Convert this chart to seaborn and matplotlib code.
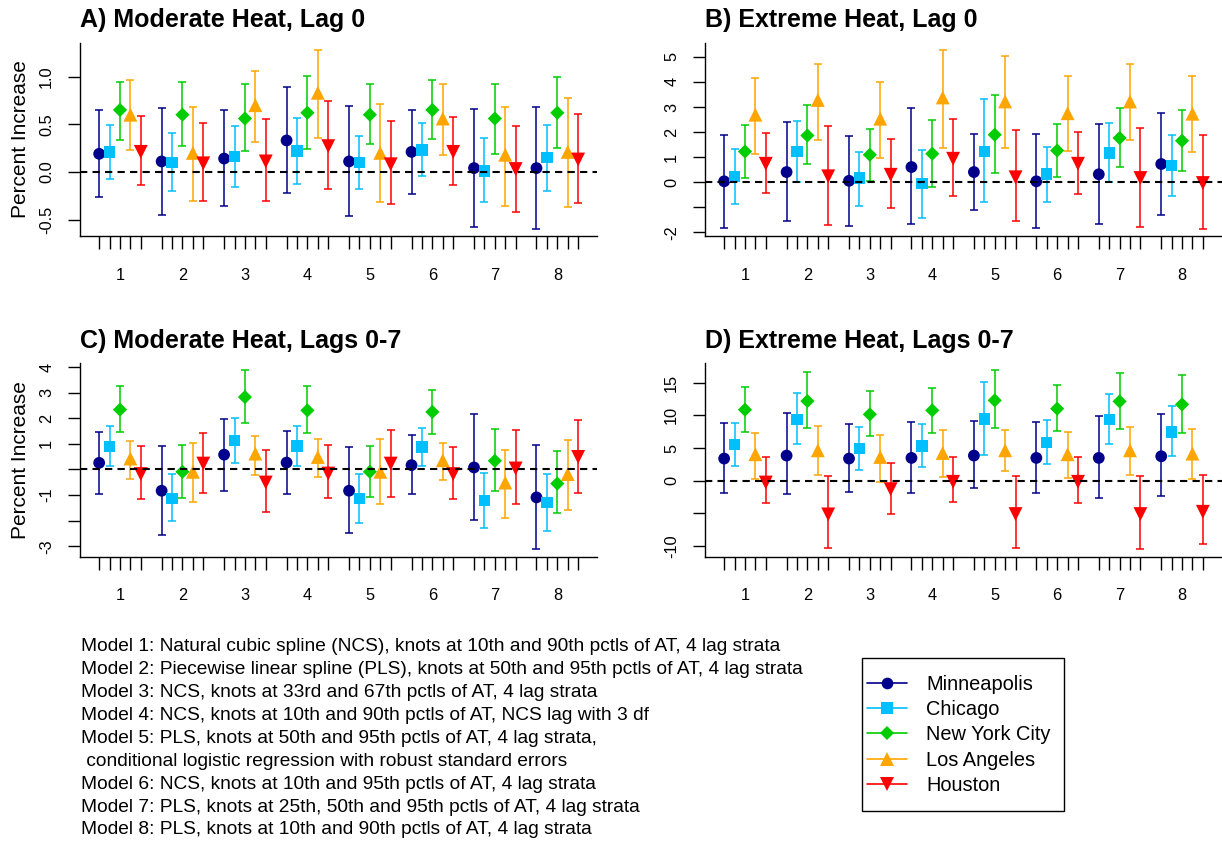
import numpy as np
import pandas as pd
import matplotlib
matplotlib.use("Agg")
import matplotlib.pyplot as plt
import seaborn as sns
from matplotlib.lines import Line2D
from matplotlib.patches import Rectangle

sns.set_style("ticks")
plt.rcParams['font.family'] = ['Liberation Sans', 'DejaVu Sans']
plt.rcParams.update({"text.color": "black", "axes.labelcolor": "black",
                     "xtick.color": "black", "ytick.color": "black",
                     "axes.edgecolor": "black"})

# ---------------- data ----------------
cities = ["Minneapolis", "Chicago", "New York City", "Los Angeles", "Houston"]
model_labels = ["1", "2", "3", "4", "5", "6", "7", "8"]

# rows = models 1..8, columns = cities (Minneapolis, Chicago, NYC, LA, Houston)
A_est = [[0.19, 0.21, 0.65, 0.60, 0.21],
         [0.11, 0.10, 0.60, 0.20, 0.09],
         [0.14, 0.16, 0.56, 0.70, 0.11],
         [0.33, 0.22, 0.62, 0.83, 0.27],
         [0.11, 0.10, 0.60, 0.20, 0.08],
         [0.21, 0.23, 0.65, 0.56, 0.21],
         [0.04, 0.01, 0.56, 0.18, 0.03],
         [0.04, 0.15, 0.62, 0.21, 0.13]]
A_lo = [[-0.26, -0.07, 0.33, 0.23, -0.14],
        [-0.45, -0.20, 0.27, -0.30, -0.31],
        [-0.36, -0.16, 0.22, 0.31, -0.31],
        [-0.22, -0.13, 0.24, 0.36, -0.18],
        [-0.46, -0.18, 0.29, -0.32, -0.34],
        [-0.23, -0.04, 0.35, 0.18, -0.14],
        [-0.58, -0.32, 0.19, -0.36, -0.42],
        [-0.60, -0.20, 0.25, -0.37, -0.33]]
A_hi = [[0.65, 0.49, 0.94, 0.96, 0.59],
        [0.67, 0.41, 0.94, 0.68, 0.51],
        [0.65, 0.48, 0.92, 1.06, 0.55],
        [0.89, 0.57, 1.01, 1.28, 0.74],
        [0.69, 0.38, 0.92, 0.71, 0.53],
        [0.65, 0.51, 0.96, 0.92, 0.58],
        [0.66, 0.36, 0.92, 0.68, 0.48],
        [0.68, 0.49, 1.00, 0.78, 0.61]]

B_est = [[0.03, 0.23, 1.22, 2.69, 0.73],
         [0.40, 1.22, 1.86, 3.28, 0.23],
         [0.05, 0.16, 1.09, 2.53, 0.29],
         [0.60, -0.07, 1.13, 3.38, 0.93],
         [0.40, 1.22, 1.89, 3.22, 0.19],
         [0.03, 0.32, 1.26, 2.75, 0.73],
         [0.31, 1.16, 1.76, 3.22, 0.16],
         [0.72, 0.66, 1.65, 2.73, -0.04]]
B_lo = [[-1.82, -0.86, 0.17, 1.14, -0.45],
        [-1.57, 0.01, 0.73, 1.69, -1.72],
        [-1.74, -0.94, 0.03, 0.96, -1.04],
        [-1.66, -1.44, -0.19, 1.38, -0.55],
        [-1.10, -0.81, 0.35, 1.36, -1.57],
        [-1.82, -0.78, 0.20, 1.25, -0.49],
        [-1.66, -0.01, 0.59, 1.69, -1.80],
        [-1.30, -0.57, 0.45, 1.20, -1.88]]
B_hi = [[1.89, 1.33, 2.26, 4.16, 1.97],
        [2.39, 2.42, 3.06, 4.71, 2.22],
        [1.85, 1.22, 2.13, 3.99, 1.72],
        [2.95, 1.29, 2.46, 5.28, 2.53],
        [1.91, 3.32, 3.46, 5.05, 2.06],
        [1.91, 1.42, 2.31, 4.24, 1.98],
        [2.33, 2.37, 2.94, 4.71, 2.15],
        [2.75, 1.89, 2.89, 4.22, 1.89]]

C_est = [[0.26, 0.91, 2.34, 0.43, -0.18],
         [-0.83, -1.12, -0.09, -0.09, 0.23],
         [0.58, 1.14, 2.83, 0.62, -0.51],
         [0.27, 0.92, 2.31, 0.49, -0.16],
         [-0.83, -1.12, -0.09, -0.09, 0.23],
         [0.17, 0.88, 2.25, 0.36, -0.18],
         [0.08, -1.22, 0.34, -0.51, 0.04],
         [-1.09, -1.30, -0.55, -0.18, 0.49]]
C_lo = [[-0.94, 0.14, 1.47, -0.36, -1.16],
        [-2.56, -2.03, -1.10, -1.26, -0.92],
        [-0.83, 0.26, 1.82, -0.22, -1.68],
        [-0.94, 0.14, 1.44, -0.31, -1.13],
        [-2.49, -2.08, -1.06, -1.36, -1.06],
        [-0.97, 0.14, 1.38, -0.42, -1.16],
        [-1.97, -2.30, -0.84, -1.88, -1.36],
        [-3.12, -2.39, -1.71, -1.58, -0.90]]
C_hi = [[1.47, 1.69, 3.25, 1.12, 0.90],
        [0.92, -0.19, 0.97, 1.05, 1.43],
        [1.96, 2.01, 3.87, 1.31, 0.78],
        [1.51, 1.69, 3.25, 1.19, 0.95],
        [0.87, -0.16, 0.91, 1.18, 1.53],
        [1.34, 1.62, 3.09, 1.05, 0.88],
        [2.16, -0.13, 1.57, 0.78, 1.56],
        [0.95, -0.19, 0.71, 1.17, 1.95]]

D_est = [[3.37, 5.51, 10.87, 4.03, -0.31],
         [3.83, 9.39, 12.19, 4.64, -5.20],
         [3.37, 4.90, 10.15, 3.62, -1.33],
         [3.47, 5.31, 10.77, 4.23, -0.20],
         [3.83, 9.44, 12.30, 4.64, -5.15],
         [3.47, 5.82, 11.02, 4.03, -0.20],
         [3.47, 9.34, 12.14, 4.64, -5.15],
         [3.72, 7.45, 11.68, 4.13, -4.80]]
D_lo = [[-1.89, 2.24, 7.40, 0.31, -3.42],
        [-2.14, 5.66, 8.01, 0.87, -10.41],
        [-1.79, 1.68, 6.79, -0.15, -5.10],
        [-1.89, 2.09, 7.30, 0.61, -3.37],
        [-1.22, 3.98, 8.01, 1.43, -10.41],
        [-1.84, 2.50, 7.60, 0.41, -3.52],
        [-2.65, 5.56, 7.91, 0.82, -10.56],
        [-2.35, 3.83, 7.35, 0.31, -9.80]]
D_hi = [[8.78, 8.78, 14.34, 7.35, 3.57],
        [10.36, 13.42, 16.58, 8.32, 0.77],
        [8.72, 8.16, 13.72, 6.94, 2.70],
        [8.93, 8.62, 14.18, 7.76, 3.62],
        [9.13, 15.10, 16.89, 7.70, 0.77],
        [9.03, 9.23, 14.59, 7.45, 3.57],
        [9.85, 13.21, 16.48, 8.21, 0.77],
        [10.15, 11.38, 16.22, 7.86, 0.82]]

A_yticks = [-0.5, 0.0, 0.5, 1.0]
A_ytlab = ["-0.5", "0.0", "0.5", "1.0"]
B_yticks = [-2, -1, 0, 1, 2, 3, 4, 5]
B_ytlab = ["-2", "", "0", "1", "2", "3", "4", "5"]
C_yticks = [-3, -2, -1, 0, 1, 2, 3, 4]
C_ytlab = ["-3", "", "-1", "", "1", "2", "3", "4"]
D_yticks = [-10, -5, 0, 5, 10, 15]
D_ytlab = ["-10", "", "0", "5", "10", "15"]

titles = ["A) Moderate Heat, Lag 0", "B) Extreme Heat, Lag 0",
          "C) Moderate Heat, Lags 0-7", "D) Extreme Heat, Lags 0-7"]

notes = ["Model 1: Natural cubic spline (NCS), knots at 10th and 90th pctls of AT, 4 lag strata",
         "Model 2: Piecewise linear spline (PLS), knots at 50th and 95th pctls of AT, 4 lag strata",
         "Model 3: NCS, knots at 33rd and 67th pctls of AT, 4 lag strata",
         "Model 4: NCS, knots at 10th and 90th pctls of AT, NCS lag with 3 df",
         "Model 5: PLS, knots at 50th and 95th pctls of AT, 4 lag strata,",
         " conditional logistic regression with robust standard errors",
         "Model 6: NCS, knots at 10th and 95th pctls of AT, 4 lag strata",
         "Model 7: PLS, knots at 25th, 50th and 95th pctls of AT, 4 lag strata",
         "Model 8: PLS, knots at 10th and 90th pctls of AT, 4 lag strata"]

# ---------------- style ----------------
colors = ["#00008B", "#00BFFF", "#00CD00", "#FFA500", "#FF0000"]
markers = ["o", "s", "D", "^", "v"]
msize = [72, 66, 52, 100, 100]
W, H = 1222, 841

fig = plt.figure(figsize=(W / 100, H / 100), dpi=100)


def px_axes(left, top, right, bottom):
    return fig.add_axes([left / W, 1 - bottom / H, (right - left) / W, (bottom - top) / H])


def draw(ax, est, lo, hi, yt, ytl, title, ylabel):
    rows = []
    for mi in range(len(model_labels)):
        for ci, c in enumerate(cities):
            rows.append(dict(model=model_labels[mi], city=c, pos=mi * 6 + ci + 1,
                             est=est[mi][ci], lo=lo[mi][ci], hi=hi[mi][ci]))
    df = pd.DataFrame(rows)
    for ci, c in enumerate(cities):
        d = df[df.city == c]
        ax.errorbar(d.pos, d.est, yerr=[d.est - d.lo, d.hi - d.est], fmt="none",
                    ecolor=colors[ci], elinewidth=1.1, capsize=3.0, capthick=1.1, zorder=2)
        sns.scatterplot(data=d, x="pos", y="est", marker=markers[ci], color=colors[ci],
                        s=msize[ci], edgecolor="none", linewidth=0, ax=ax, zorder=3, legend=False)
    ax.axhline(0, color="black", lw=1.5, ls=(0, (3.5, 2.5)), zorder=5)
    vmin, vmax = df.lo.min(), df.hi.max()
    r = vmax - vmin
    ax.set_ylim(vmin - 0.04 * r, vmax + 0.04 * r)
    ax.set_xlim(1 - 0.04 * 46, 47 + 0.04 * 46)
    ax.xaxis.remove_overlapping_locs = False
    ax.set_xticks(df.pos)
    ax.set_xticklabels([])
    centers = [mi * 6 + 3 for mi in range(len(model_labels))]
    ax.set_xticks(centers, minor=True)
    ax.set_xticklabels(model_labels, minor=True)
    ax.tick_params(axis="x", which="major", length=9.4, width=1.0, color="black")
    ax.tick_params(axis="x", which="minor", length=0, pad=23, labelsize=11.8, labelcolor="black")
    ax.set_yticks(yt)
    ax.set_yticklabels(ytl, rotation=90, va="center")
    ax.tick_params(axis="y", length=8.6, width=1.0, pad=10, labelsize=11.8, color="black",
                   labelcolor="black")
    sns.despine(ax=ax)
    for s in ["left", "bottom"]:
        ax.spines[s].set_linewidth(1.0)
        ax.spines[s].set_color("black")
    ax.set_xlabel("")
    ax.set_ylabel(ylabel, fontsize=15, color="black")
    ax.yaxis.set_label_coords(-0.0963, 0.5)
    ax.set_title(title, loc="left", fontweight="bold", fontsize=18, pad=11.3, color="black")


axA = px_axes(80, 42.7, 597.3, 236.3)
axB = px_axes(705, 42.7, 1222, 236.3)
axC = px_axes(80, 363.3, 597.3, 556.5)
axD = px_axes(705, 363.3, 1222, 556.5)

draw(axA, A_est, A_lo, A_hi, A_yticks, A_ytlab, titles[0], "Percent Increase")
draw(axB, B_est, B_lo, B_hi, B_yticks, B_ytlab, titles[1], "")
draw(axC, C_est, C_lo, C_hi, C_yticks, C_ytlab, titles[2], "Percent Increase")
draw(axD, D_est, D_lo, D_hi, D_yticks, D_ytlab, titles[3], "")

# notes
for i, line in enumerate(notes):
    fig.text(81 / W, 1 - (646.7 + i * 22.9) / H, line, fontsize=13.8, va="center", ha="left",
             color="black")

# legend
handles = [Line2D([0], [0], color=colors[i], marker=markers[i], lw=1.2,
                  markersize=[8.4, 8.1, 7.2, 10.0, 10.0][i], markeredgewidth=0)
           for i in range(5)]
fig.legend(handles, cities, loc="upper left", bbox_to_anchor=(867 / W, 1 - 675.0 / H),
           frameon=False, borderpad=0, borderaxespad=0, fontsize=14.4,
           handlelength=2.0, handletextpad=0.95, labelspacing=0.31, labelcolor="black")
fig.add_artist(Rectangle((862 / W, 1 - 810.7 / H), 202 / W, 152.4 / H,
                         transform=fig.transFigure, fill=False, edgecolor="black", lw=1.0))

fig.savefig("out.png", dpi=100)
